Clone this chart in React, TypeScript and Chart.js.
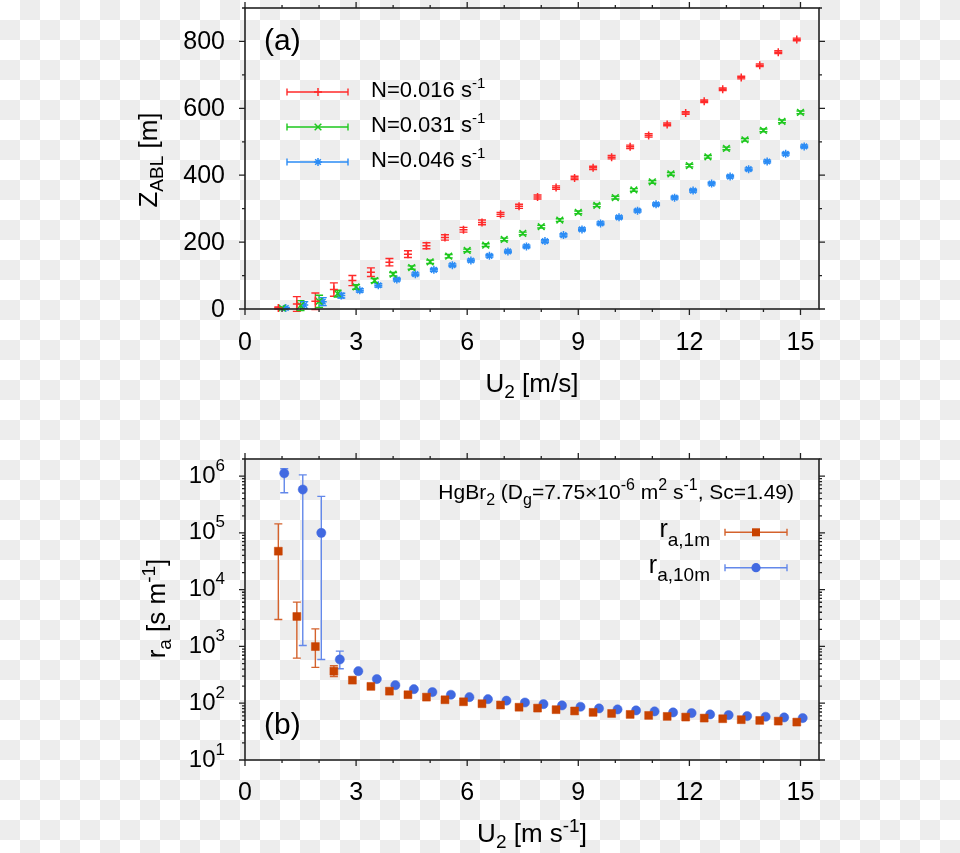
import React, { useEffect, useRef } from "react";
import { Chart, registerables } from "chart.js";

Chart.register(...registerables);

const FONT = '"Liberation Sans", Arial, Helvetica, sans-serif';

// ---------------- Panel (a): boundary-layer height ----------------
const xN016 = [0.9, 1.4, 1.9, 2.4, 2.9, 3.4, 3.9, 4.4, 4.9, 5.4, 5.9, 6.4, 6.9, 7.4, 7.9, 8.4, 8.9, 9.4, 9.9, 10.4, 10.9, 11.4, 11.9, 12.4, 12.9, 13.4, 13.9, 14.4, 14.9];
const zN016 = [3, 15, 23, 58, 85, 110, 140, 164, 189, 214, 237, 259, 283, 307, 335, 363, 392, 422, 454, 485, 519, 552, 586, 621, 657, 692, 729, 768, 806];
const eN016 = [3, 22, 25, 20, 15, 13, 11, 10, 9, 8, 7, 7, 6, 6, 6, 5, 5, 5, 5, 5, 5, 4, 4, 4, 4, 4, 4, 4, 4];

const xN031 = [1.0, 1.5, 2.0, 2.5, 3.0, 3.5, 4.0, 4.5, 5.0, 5.5, 6.0, 6.5, 7.0, 7.5, 8.0, 8.5, 9.0, 9.5, 10.0, 10.5, 11.0, 11.5, 12.0, 12.5, 13.0, 13.5, 14.0, 14.5, 15.0];
const zN031 = [3, 10, 23, 46, 66, 85, 104, 124, 141, 158, 175, 191, 208, 226, 246, 266, 289, 310, 333, 356, 380, 404, 429, 455, 480, 506, 534, 561, 588];
const eN031 = [2, 15, 18, 10, 7, 6, 5, 5, 5, 5, 4, 4, 4, 4, 4, 4, 4, 4, 4, 4, 4, 4, 4, 4, 4, 4, 4, 4, 4];

const xN046 = [1.1, 1.6, 2.1, 2.6, 3.1, 3.6, 4.1, 4.6, 5.1, 5.6, 6.1, 6.6, 7.1, 7.6, 8.1, 8.6, 9.1, 9.6, 10.1, 10.6, 11.1, 11.6, 12.1, 12.6, 13.1, 13.6, 14.1, 14.6, 15.1];
const zN046 = [3, 12, 22, 40, 56, 71, 88, 104, 117, 131, 145, 159, 172, 187, 203, 221, 238, 256, 274, 294, 313, 333, 354, 375, 396, 418, 441, 464, 486];
const eN046 = [2, 10, 12, 7, 5, 5, 4, 4, 4, 4, 4, 4, 4, 4, 4, 4, 4, 4, 4, 4, 4, 4, 4, 4, 4, 4, 4, 4, 4];

const legendA = ["N=0.016 s", "N=0.031 s", "N=0.046 s"];

// ---------------- Panel (b): aerodynamic resistance ----------------
const xRa1m = [0.9, 1.4, 1.9, 2.4, 2.9, 3.4, 3.9, 4.4, 4.9, 5.4, 5.9, 6.4, 6.9, 7.4, 7.9, 8.4, 8.9, 9.4, 9.9, 10.4, 10.9, 11.4, 11.9, 12.4, 12.9, 13.4, 13.9, 14.4, 14.9];
const ra1m = [47600, 3370, 995, 367, 255, 198, 163, 141, 128, 115, 106, 98, 93, 85, 82, 77, 73, 69, 66, 63.5, 61, 58.6, 57, 54.7, 53.3, 51.3, 49.8, 48.4, 46.5];
const ra1mLow = [2990, 622, 427, 296];
const ra1mHigh = [144000, 6030, 2040, 457];

const xRa10m = [1.06, 1.56, 2.06, 2.56, 3.06, 3.56, 4.06, 4.56, 5.06, 5.56, 6.06, 6.56, 7.06, 7.56, 8.06, 8.56, 9.06, 9.56, 10.06, 10.56, 11.06, 11.56, 12.06, 12.56, 13.06, 13.56, 14.06, 14.56, 15.06];
const ra10m = [1120000, 580000, 100000, 590, 367, 266, 208, 177, 157, 141, 128, 118, 111, 103, 96.4, 91.4, 86.7, 81, 77.8, 74.7, 71.8, 68.9, 67, 63.6, 61.8, 59.3, 57.8, 56.2, 54.7];
const ra10mLow = [508000, 1040, 590, 405];
const ra10mHigh = [1350000, 1050000, 440000, 826];

// ---------------- Axes ----------------
const xMajorTicks = [0, 3, 6, 9, 12, 15];
const xMinorTicks = [1, 2, 4, 5, 7, 8, 10, 11, 13, 14];
const yMajorA = [0, 200, 400, 600, 800];
const yMinorA = [100, 300, 500, 700, 900];
const yDecadesB = [1, 2, 3, 4, 5, 6];

const RED = "#ff2a2a";
const GREEN = "#1ec81e";
const BLUE = "#2b8cf5";
const ORANGE = "#c84200";
const ORANGE_BAR = "#d4622c";
const ROYAL = "#4169e1";
const ROYAL_BAR = "#6388ea";

type Seg = [string, number]; // 0 normal, 1 subscript, 2 superscript

function richWidth(ctx: CanvasRenderingContext2D, segs: Seg[], size: number, small: number) {
  let w = 0;
  for (const [t, k] of segs) {
    ctx.font = `${k ? small : size}px ${FONT}`;
    w += ctx.measureText(t).width;
  }
  return w;
}

function drawRich(
  ctx: CanvasRenderingContext2D,
  segs: Seg[],
  x: number,
  y: number,
  size: number,
  small: number,
  align: "left" | "right" | "center",
  subDy: number,
  supDy: number
) {
  const w = richWidth(ctx, segs, size, small);
  let cx = align === "right" ? x - w : align === "center" ? x - w / 2 : x;
  ctx.textAlign = "left";
  ctx.textBaseline = "alphabetic";
  ctx.fillStyle = "#000";
  for (const [t, k] of segs) {
    ctx.font = `${k ? small : size}px ${FONT}`;
    const dy = k === 1 ? subDy : k === 2 ? -supDy : 0;
    ctx.fillText(t, cx, y + dy);
    cx += ctx.measureText(t).width;
  }
}

function drawFrame(chart: any, yMajors: number[], yMinors: number[]) {
  const ctx: CanvasRenderingContext2D = chart.ctx;
  const { left, right, top, bottom } = chart.chartArea;
  const xs = chart.scales.x;
  const ys = chart.scales.y;
  ctx.save();
  ctx.strokeStyle = "#222";
  ctx.lineWidth = 1.6;
  ctx.strokeRect(left, top, right - left, bottom - top);
  ctx.lineWidth = 1.3;
  ctx.beginPath();
  const xt = (v: number, len: number) => {
    const p = xs.getPixelForValue(v);
    ctx.moveTo(p, bottom);
    ctx.lineTo(p, bottom + len);
    ctx.moveTo(p, top);
    ctx.lineTo(p, top - len);
  };
  const yt = (v: number, len: number) => {
    const p = ys.getPixelForValue(v);
    ctx.moveTo(left, p);
    ctx.lineTo(left - len, p);
    ctx.moveTo(right, p);
    ctx.lineTo(right + len, p);
  };
  xMajorTicks.forEach((v) => xt(v, 6));
  xMinorTicks.forEach((v) => xt(v, 3));
  yMajors.forEach((v) => yt(v, 6));
  yMinors.forEach((v) => yt(v, 3));
  ctx.stroke();
  ctx.restore();
}

function errBar(ctx: CanvasRenderingContext2D, chart: any, xv: number, lo: number, hi: number, color: string, cap: number) {
  const xs = chart.scales.x;
  const ys = chart.scales.y;
  const px = xs.getPixelForValue(xv);
  const p1 = ys.getPixelForValue(lo);
  const p2 = ys.getPixelForValue(hi);
  ctx.strokeStyle = color;
  ctx.beginPath();
  ctx.moveTo(px, p1);
  ctx.lineTo(px, p2);
  ctx.moveTo(px - cap, p1);
  ctx.lineTo(px + cap, p1);
  ctx.moveTo(px - cap, p2);
  ctx.lineTo(px + cap, p2);
  ctx.stroke();
}

function legendLine(ctx: CanvasRenderingContext2D, x1: number, x2: number, y: number, color: string, lw: number) {
  ctx.strokeStyle = color;
  ctx.lineWidth = lw;
  ctx.beginPath();
  ctx.moveTo(x1, y);
  ctx.lineTo(x2, y);
  ctx.moveTo(x1, y - 3.5);
  ctx.lineTo(x1, y + 3.5);
  ctx.moveTo(x2, y - 3.5);
  ctx.lineTo(x2, y + 3.5);
  ctx.stroke();
}

function marker(ctx: CanvasRenderingContext2D, style: string, x: number, y: number, r: number, color: string) {
  ctx.strokeStyle = color;
  ctx.fillStyle = color;
  ctx.lineWidth = 1.5;
  ctx.beginPath();
  if (style === "plus" || style === "star") {
    ctx.moveTo(x - r, y);
    ctx.lineTo(x + r, y);
    ctx.moveTo(x, y - r);
    ctx.lineTo(x, y + r);
  }
  if (style === "x" || style === "star") {
    const d = r * Math.SQRT1_2;
    ctx.moveTo(x - d, y - d);
    ctx.lineTo(x + d, y + d);
    ctx.moveTo(x - d, y + d);
    ctx.lineTo(x + d, y - d);
  }
  ctx.stroke();
  if (style === "square") {
    ctx.fillRect(x - r, y - r, 2 * r, 2 * r);
  }
  if (style === "circle") {
    ctx.beginPath();
    ctx.arc(x, y, r, 0, Math.PI * 2);
    ctx.fill();
  }
}

const pluginA = {
  id: "decorA",
  beforeDatasetsDraw(chart: any) {
    const ctx: CanvasRenderingContext2D = chart.ctx;
    ctx.save();
    ctx.lineWidth = 1.4;
    xN016.forEach((x, i) => errBar(ctx, chart, x, zN016[i] - eN016[i], zN016[i] + eN016[i], RED, 4));
    xN031.forEach((x, i) => errBar(ctx, chart, x, zN031[i] - eN031[i], zN031[i] + eN031[i], GREEN, 4));
    xN046.forEach((x, i) => errBar(ctx, chart, x, zN046[i] - eN046[i], zN046[i] + eN046[i], BLUE, 4));
    ctx.restore();
  },
  afterDraw(chart: any) {
    const ctx: CanvasRenderingContext2D = chart.ctx;
    drawFrame(chart, yMajorA, yMinorA);
    const xs = chart.scales.x;
    const ys = chart.scales.y;
    const { bottom, left, right } = chart.chartArea;
    ctx.save();
    ctx.fillStyle = "#000";
    ctx.font = `25px ${FONT}`;
    ctx.textBaseline = "alphabetic";
    ctx.textAlign = "center";
    xMajorTicks.forEach((v) => ctx.fillText(String(v), xs.getPixelForValue(v), bottom + 41));
    ctx.textAlign = "right";
    yMajorA.forEach((v) => ctx.fillText(String(v), 225, ys.getPixelForValue(v) + 8));
    // panel tag
    ctx.textAlign = "left";
    ctx.font = `30px ${FONT}`;
    ctx.fillText("(a)", 264, 50);
    // axis titles
    drawRich(ctx, [["U", 0], ["2", 1], [" [m/s]", 0]], (left + right) / 2, 392, 26, 19, "center", 6, 0);
    ctx.save();
    ctx.translate(157, 160);
    ctx.rotate(-Math.PI / 2);
    drawRich(ctx, [["Z", 0], ["ABL", 1], [" [m]", 0]], 0, 0, 26, 19, "center", 6, 0);
    ctx.restore();
    // legend
    const rows = [92, 127, 162];
    const cols = [RED, GREEN, BLUE];
    const styles = ["plus", "x", "star"];
    rows.forEach((y, i) => {
      legendLine(ctx, 287, 348, y, cols[i], 1.4);
      marker(ctx, styles[i], 318, y, styles[i] === "x" ? 4.7 : 4, cols[i]);
      drawRich(ctx, [[legendA[i], 0], ["-1", 2]], 371, y + 5, 22, 15, "left", 0, 9);
    });
    ctx.restore();
  },
};

const pluginB = {
  id: "decorB",
  beforeDatasetsDraw(chart: any) {
    const ctx: CanvasRenderingContext2D = chart.ctx;
    ctx.save();
    ctx.lineWidth = 1.4;
    ra1mLow.forEach((lo, i) => errBar(ctx, chart, xRa1m[i], lo, ra1mHigh[i], ORANGE_BAR, 4));
    ra10mLow.forEach((lo, i) => errBar(ctx, chart, xRa10m[i], lo, ra10mHigh[i], ROYAL_BAR, 4));
    ctx.restore();
  },
  afterDraw(chart: any) {
    const ctx: CanvasRenderingContext2D = chart.ctx;
    const minors: number[] = [];
    yDecadesB.forEach((e) => {
      for (let m = 2; m <= 9; m++) {
        const v = m * Math.pow(10, e);
        if (v <= 2e6) minors.push(v);
      }
    });
    drawFrame(chart, yDecadesB.map((e) => Math.pow(10, e)), minors);
    const xs = chart.scales.x;
    const ys = chart.scales.y;
    const { bottom, left, right } = chart.chartArea;
    ctx.save();
    ctx.fillStyle = "#000";
    ctx.font = `25px ${FONT}`;
    ctx.textBaseline = "alphabetic";
    ctx.textAlign = "center";
    xMajorTicks.forEach((v) => ctx.fillText(String(v), xs.getPixelForValue(v), bottom + 40));
    yDecadesB.forEach((e) => {
      drawRich(ctx, [["10", 0], [String(e), 2]], 225, ys.getPixelForValue(Math.pow(10, e)) + 6.5, 24, 17, "right", 0, 12);
    });
    ctx.textAlign = "left";
    ctx.font = `30px ${FONT}`;
    ctx.fillText("(b)", 264, 314);
    drawRich(ctx, [["U", 0], ["2", 1], [" [m s", 0], ["-1", 2], ["]", 0]], (left + right) / 2, 422, 26, 19, "center", 6, 10);
    ctx.save();
    ctx.translate(164.5, 188.5);
    ctx.rotate(-Math.PI / 2);
    drawRich(ctx, [["r", 0], ["a", 1], [" [s m", 0], ["-1", 2], ["]", 0]], 0, 0, 26, 19, "center", 6, 10);
    ctx.restore();
    // annotation
    drawRich(
      ctx,
      [
        ["HgBr", 0],
        ["2", 1],
        [" (D", 0],
        ["g", 1],
        ["=7.75×10", 0],
        ["-6", 2],
        [" m", 0],
        ["2", 2],
        [" s", 0],
        ["-1", 2],
        [", Sc=1.49)", 0],
      ],
      794,
      79,
      21,
      16,
      "right",
      6,
      9
    );
    // legend
    legendLine(ctx, 725, 787, 112.3, ORANGE_BAR, 1.4);
    marker(ctx, "square", 756, 112.3, 4, ORANGE);
    drawRich(ctx, [["r", 0], ["a,1m", 1]], 710, 117.3, 25, 19, "right", 8.5, 0);
    legendLine(ctx, 725, 787, 147.7, ROYAL_BAR, 1.4);
    marker(ctx, "circle", 756, 147.7, 4.6, ROYAL);
    drawRich(ctx, [["r", 0], ["a,10m", 1]], 710, 152.7, 25, 19, "right", 8.5, 0);
    ctx.restore();
  },
};

function baseOptions(padding: any, yScale: any) {
  return {
    responsive: false,
    animation: false as const,
    devicePixelRatio: 1,
    events: [] as any[],
    layout: { padding },
    plugins: {
      legend: { display: false },
      tooltip: { enabled: false },
      title: { display: false },
    },
    scales: {
      x: { type: "linear" as const, min: 0, max: 15.5, display: false },
      y: yScale,
    },
  };
}

function PanelA() {
  const ref = useRef<HTMLCanvasElement>(null);
  useEffect(() => {
    if (!ref.current) return;
    const mk = (xs: number[], ys: number[]) => xs.map((x, i) => ({ x, y: ys[i] }));
    const chart = new Chart(ref.current, {
      type: "scatter",
      data: {
        datasets: [
          { data: mk(xN016, zN016), pointStyle: "cross", pointRadius: 4, borderColor: RED, backgroundColor: RED, pointBorderWidth: 1.5, clip: false as any },
          { data: mk(xN031, zN031), pointStyle: "crossRot", pointRadius: 4.7, borderColor: GREEN, backgroundColor: GREEN, pointBorderWidth: 1.5, clip: false as any },
          { data: mk(xN046, zN046), pointStyle: "star", pointRadius: 4, borderColor: BLUE, backgroundColor: BLUE, pointBorderWidth: 1.5, clip: false as any },
        ],
      },
      options: baseOptions(
        { left: 245, top: 8, right: 141, bottom: 111 },
        { type: "linear", min: 0, max: 900, display: false }
      ) as any,
      plugins: [pluginA],
    });
    return () => chart.destroy();
  }, []);
  return <canvas ref={ref} width={960} height={420} style={{ position: "absolute", left: 0, top: 0, width: 960, height: 420 }} />;
}

function PanelB() {
  const ref = useRef<HTMLCanvasElement>(null);
  useEffect(() => {
    if (!ref.current) return;
    const mk = (xs: number[], ys: number[]) => xs.map((x, i) => ({ x, y: ys[i] }));
    const chart = new Chart(ref.current, {
      type: "scatter",
      data: {
        datasets: [
          { data: mk(xRa1m, ra1m), pointStyle: "rect", pointRadius: 5.6, borderColor: ORANGE, backgroundColor: ORANGE, pointBorderWidth: 0.5, clip: false as any },
          { data: mk(xRa10m, ra10m), pointStyle: "circle", pointRadius: 4.6, borderColor: ROYAL, backgroundColor: ROYAL, pointBorderWidth: 0.5, clip: false as any },
        ],
      },
      options: baseOptions(
        { left: 245, top: 39, right: 141, bottom: 93 },
        { type: "logarithmic", min: 10, max: 2e6, display: false }
      ) as any,
      plugins: [pluginB],
    });
    return () => chart.destroy();
  }, []);
  return <canvas ref={ref} width={960} height={433} style={{ position: "absolute", left: 0, top: 420, width: 960, height: 433 }} />;
}

export default function App() {
  return (
    <div
      style={{
        position: "absolute",
        left: 0,
        top: 0,
        width: 960,
        height: 853,
        overflow: "hidden",
        backgroundColor: "#ffffff",
        backgroundImage: "conic-gradient(#ededed 0 25%, #ffffff 0 50%, #ededed 0 75%, #ffffff 0)",
        backgroundSize: "40px 40px",
        backgroundPosition: "0 0",
      }}
    >
      <PanelA />
      <PanelB />
    </div>
  );
}
